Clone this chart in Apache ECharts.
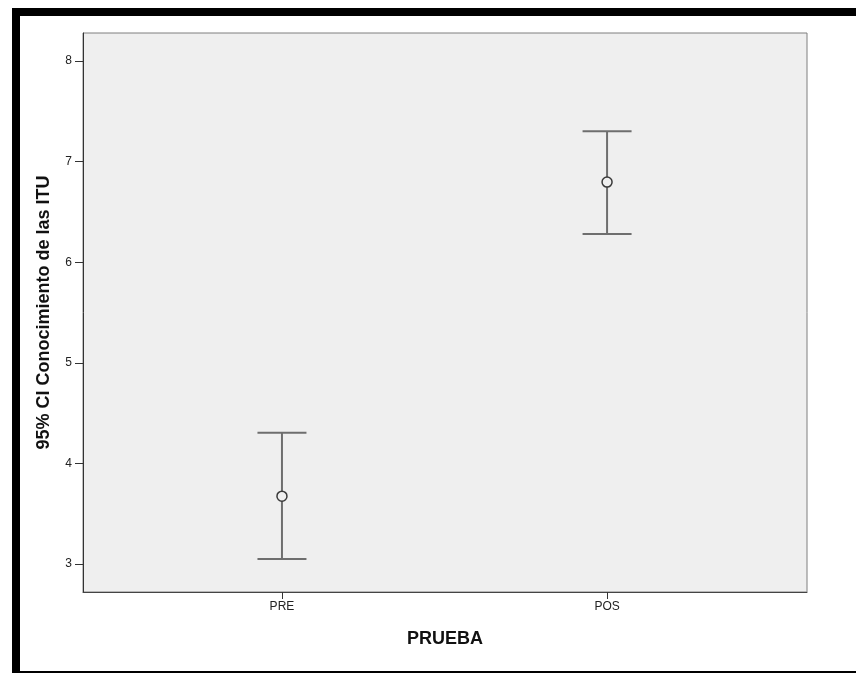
<!DOCTYPE html>
<html>
<head>
<meta charset="utf-8">
<script src="https://cdn.jsdelivr.net/npm/echarts@6/dist/echarts.min.js"></script>
<style>
html,body{margin:0;padding:0;background:#fff;}
#chart{width:856px;height:673px;}
</style>
</head>
<body>
<div id="chart"></div>
<script>
var categories = ['PRE', 'POS'];
var meanValues = [3.673, 6.797];
var lowerCI = [3.047, 6.280];
var upperCI = [4.305, 7.304];
var yTicks = [3, 4, 5, 6, 7, 8];
var xPositions = [1, 2];

var chart = echarts.init(document.getElementById('chart'), null, {renderer: 'canvas'});

var barData = xPositions.map(function (x, i) { return [x, lowerCI[i], upperCI[i]]; });
var meanData = xPositions.map(function (x, i) { return [x, meanValues[i]]; });

var option = {
  animation: false,
  backgroundColor: '#ffffff',
  graphic: [{
    type: 'rect',
    shape: {x: 16, y: 12, width: 900, height: 663},
    style: {fill: 'none', stroke: '#000', lineWidth: 8},
    silent: true,
    z: 100
  }],
  grid: {
    left: 83, top: 33, right: 49, bottom: 81,
    show: true,
    backgroundColor: '#efefef',
    borderColor: '#7f7f7f',
    borderWidth: 1
  },
  xAxis: {
    type: 'value',
    min: 0.388,
    max: 2.615,
    name: 'PRUEBA',
    nameLocation: 'middle',
    nameGap: 38,
    nameTextStyle: {fontFamily: 'Liberation Sans', fontWeight: 'bold', fontSize: 18, color: '#111'},
    splitLine: {show: false},
    axisLine: {show: true, lineStyle: {color: '#444', width: 1}},
    axisTick: {show: true, length: 7, customValues: xPositions, lineStyle: {color: '#333'}},
    axisLabel: {
      customValues: xPositions,
      margin: 9,
      fontFamily: 'Liberation Sans', fontSize: 12, color: '#222',
      formatter: function (v) {
        var i = xPositions.indexOf(Math.round(v));
        return i >= 0 ? categories[i] : '';
      }
    }
  },
  yAxis: {
    type: 'value',
    min: 2.72,
    max: 8.28,
    name: '95% CI Conocimiento de las ITU',
    nameLocation: 'middle',
    nameGap: 30,
    nameTextStyle: {fontFamily: 'Liberation Sans', fontWeight: 'bold', fontSize: 18, color: '#111'},
    splitLine: {show: false},
    axisLine: {show: true, lineStyle: {color: '#333', width: 1}},
    axisTick: {show: true, length: 8, customValues: yTicks, lineStyle: {color: '#333'}},
    axisLabel: {
      customValues: yTicks,
      margin: 11,
      fontFamily: 'Liberation Sans', fontSize: 12, color: '#222'
    }
  },
  series: [
    {
      type: 'custom',
      data: barData,
      encode: {x: 0, y: [1, 2]},
      renderItem: function (params, api) {
        var x = api.value(0);
        var lo = api.coord([x, api.value(1)]);
        var hi = api.coord([x, api.value(2)]);
        var hw = 24.5;
        var style = {stroke: '#6e6e6e', lineWidth: 2, fill: 'none'};
        return {
          type: 'group',
          children: [
            {type: 'line', shape: {x1: lo[0], y1: lo[1], x2: hi[0], y2: hi[1]}, style: style},
            {type: 'line', shape: {x1: hi[0] - hw, y1: hi[1], x2: hi[0] + hw, y2: hi[1]}, style: style},
            {type: 'line', shape: {x1: lo[0] - hw, y1: lo[1], x2: lo[0] + hw, y2: lo[1]}, style: style}
          ]
        };
      },
      z: 2
    },
    {
      type: 'scatter',
      data: meanData,
      symbol: 'circle',
      symbolSize: 10,
      itemStyle: {color: '#efefef', borderColor: '#3a3a3a', borderWidth: 1.5, opacity: 1},
      z: 3
    }
  ]
};
chart.setOption(option);
</script>
</body>
</html>
